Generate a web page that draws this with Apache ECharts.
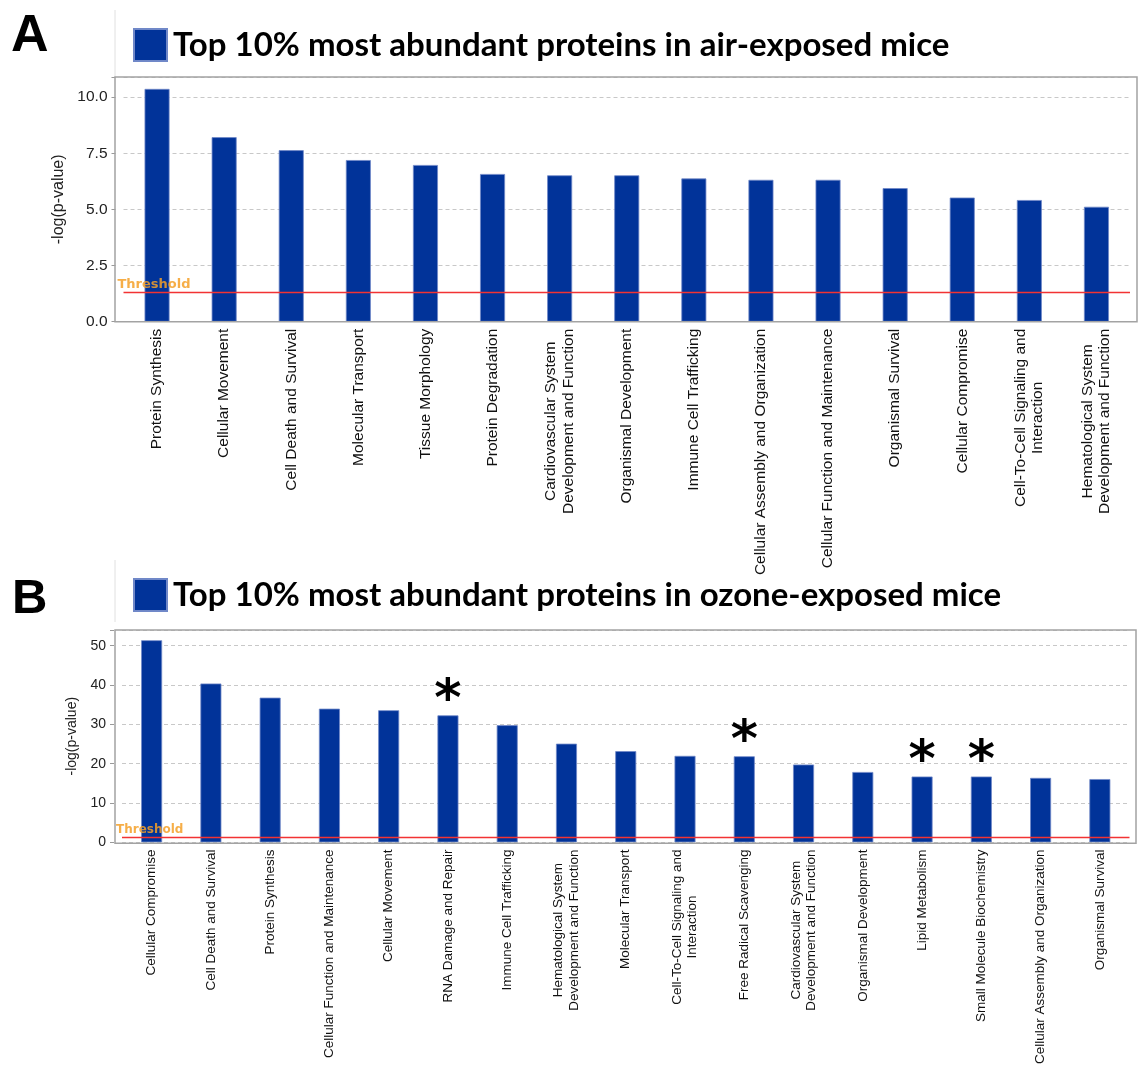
<!DOCTYPE html>
<html>
<head>
<meta charset="utf-8">
<script src="https://cdn.jsdelivr.net/npm/echarts@6/dist/echarts.min.js"></script>
<style>
  html, body { margin: 0; padding: 0; background: #fff; }
  #main { width: 1138px; height: 1067px; }
</style>
</head>
<body>
<div id="main"></div>
<script>
/* panel A : air */
var catsA = ['Protein Synthesis', 'Cellular Movement', 'Cell Death and Survival', 'Molecular Transport',
  'Tissue Morphology', 'Protein Degradation', 'Cardiovascular System\nDevelopment and Function',
  'Organismal Development', 'Immune Cell Trafficking', 'Cellular Assembly and Organization',
  'Cellular Function and Maintenance', 'Organismal Survival', 'Cellular Compromise',
  'Cell-To-Cell Signaling and\nInteraction', 'Hematological System\nDevelopment and Function'];
var valsA = [10.37, 8.22, 7.64, 7.2, 6.98, 6.58, 6.52, 6.52, 6.38, 6.32, 6.32, 5.95, 5.53, 5.42, 5.12];

/* panel B : ozone */
var catsB = ['Cellular Compromise', 'Cell Death and Survival', 'Protein Synthesis',
  'Cellular Function and Maintenance', 'Cellular Movement', 'RNA Damage and Repair',
  'Immune Cell Trafficking', 'Hematological System\nDevelopment and Function', 'Molecular Transport',
  'Cell-To-Cell Signaling and\nInteraction', 'Free Radical Scavenging',
  'Cardiovascular System\nDevelopment and Function', 'Organismal Development', 'Lipid Metabolism',
  'Small Molecule Biochemistry', 'Cellular Assembly and Organization', 'Organismal Survival'];
var valsB = [51.4, 40.4, 36.8, 34.0, 33.6, 32.3, 29.8, 25.1, 23.2, 22.0, 21.9, 19.8, 17.9, 16.75, 16.75, 16.4, 16.1];
var starredB = ['RNA Damage and Repair', 'Free Radical Scavenging', 'Lipid Metabolism', 'Small Molecule Biochemistry'];

var threshold = 1.3;
var nameA = 'Top 10% most abundant proteins in air-exposed mice';
var nameB = 'Top 10% most abundant proteins in ozone-exposed mice';

var barColor = '#013399';
var font = 'Liberation Sans';

function catLabel(v) {
  // each line centred inside the rotated label block
  return v.split('\n').map(function (s) { return '{c|' + s + '}'; }).join('\n');
}

function xAxisOf(idx, cats, size, margin) {
  return {
    type: 'category', gridIndex: idx, data: cats,
    axisLine: { show: false }, axisTick: { show: false },
    axisLabel: {
      rotate: 90, interval: 0, margin: margin, formatter: catLabel,
      rich: { c: { align: 'center', fontSize: size, fontFamily: font, color: '#111', lineHeight: size + 2 } }
    }
  };
}

function yAxisOf(idx, max, step, dec, size, nameSize, gap) {
  return {
    type: 'value', gridIndex: idx, min: 0, max: max, interval: step, offset: 8,
    name: '-log(p-value)', nameLocation: 'middle', nameGap: gap,
    nameTextStyle: { fontSize: nameSize, fontFamily: font, color: '#222' },
    axisLine: { show: false }, axisTick: { show: true, length: 4, lineStyle: { color: '#999' } },
    axisLabel: {
      fontSize: size, fontFamily: font, color: '#222', margin: 8,
      formatter: function (v) { return (Math.abs(v / step - Math.round(v / step)) > 1e-6) ? '' : v.toFixed(dec); }
    },
    splitLine: { lineStyle: { color: '#c8c8c8', type: [4, 3] } }
  };
}

function thresholdLine(size) {
  return {
    silent: true, symbol: 'none',
    lineStyle: { color: '#f23333', type: 'solid', width: 1.3, opacity: 1 },
    label: { show: true, position: 'insideStartTop', formatter: 'Threshold', distance: [-6, 1],
      color: 'rgba(245,160,40,0.85)', fontSize: size, fontFamily: 'DejaVu Sans', fontWeight: 'bold' },
    data: [{ yAxis: threshold }]
  };
}

var dataB = catsB.map(function (c, i) {
  if (starredB.indexOf(c) < 0) return valsB[i];
  return { value: valsB[i], label: { show: true } };
});

var option = {
  backgroundColor: '#fff',
  animation: false,
  title: [
    { text: 'A', left: 6, top: 6, textStyle: { fontSize: 52, fontWeight: 'bold', fontFamily: font, color: '#000' } },
    { text: 'B', left: 7, top: 570, textStyle: { fontSize: 49, fontWeight: 'bold', fontFamily: font, color: '#000' } }
  ],
  legend: [
    { data: [nameA], left: 128, top: 23, icon: 'rect', itemWidth: 33, itemHeight: 32, selectedMode: false,
      textStyle: { fontSize: 33, fontWeight: 'bold', fontFamily: 'Lato', color: '#000', padding: [0, 0, 0, 1] } },
    { data: [nameB], left: 128, top: 573, icon: 'rect', itemWidth: 33, itemHeight: 32, selectedMode: false,
      textStyle: { fontSize: 33, fontWeight: 'bold', fontFamily: 'Lato', color: '#000', padding: [0, 0, 0, 1] } }
  ],
  grid: [
    { left: 123.5, right: 8, top: 77, bottom: 745.3 },
    { left: 122, right: 8.5, top: 630, bottom: 223.7 }
  ],
  xAxis: [xAxisOf(0, catsA, 15.5, 7), xAxisOf(1, catsB, 13.5, 7)],
  yAxis: [yAxisOf(0, 10.9, 2.5, 1, 15.5, 16, 48), yAxisOf(1, 54, 10, 0, 14, 14, 30)],
  graphic: [
    // plot frames and the legend box edges
    { type: 'rect', shape: { x: 115, y: 77, width: 1022, height: 244.7 }, z: 10,
      style: { fill: null, stroke: '#a3a3a3', lineWidth: 1.5 } },
    { type: 'line', shape: { x1: 115, y1: 10, x2: 115, y2: 77 }, style: { stroke: '#e0e0e0', lineWidth: 1 } },
    { type: 'rect', shape: { x: 115, y: 630, width: 1021, height: 213.3 }, z: 10,
      style: { fill: null, stroke: '#a3a3a3', lineWidth: 1.5 } },
    { type: 'line', shape: { x1: 115, y1: 560, x2: 115, y2: 622 }, style: { stroke: '#e0e0e0', lineWidth: 1 } }
  ],
  series: [
    { name: nameA, type: 'bar', xAxisIndex: 0, yAxisIndex: 0, data: valsA, barWidth: 25,
      itemStyle: { color: barColor, borderColor: '#7088c8', borderWidth: 0.8 },
      markLine: thresholdLine(13) },
    { name: nameB, type: 'bar', xAxisIndex: 1, yAxisIndex: 1, data: dataB, barWidth: 21,
      itemStyle: { color: barColor, borderColor: '#7088c8', borderWidth: 0.8 },
      label: { show: false, position: 'top', formatter: '*', distance: -12,
        fontSize: 52, fontWeight: 'bold', fontFamily: 'DejaVu Sans', color: '#000' },
      markLine: thresholdLine(12) }
  ]
};

var myChart = echarts.init(document.getElementById('main'));
myChart.setOption(option);
</script>
</body>
</html>
